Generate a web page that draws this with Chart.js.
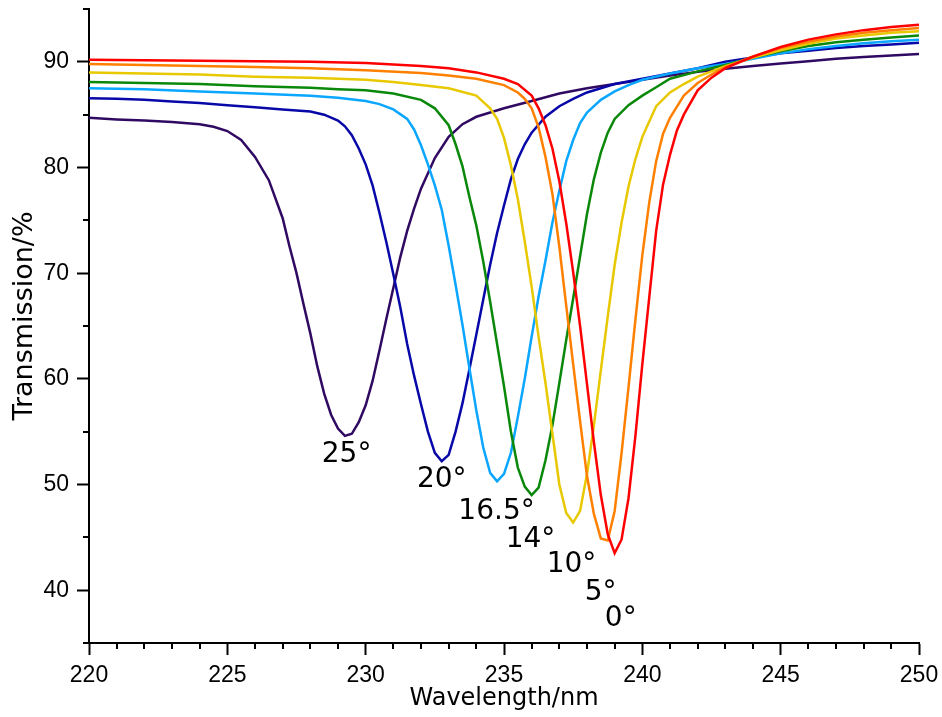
<!DOCTYPE html>
<html>
<head>
<meta charset="utf-8">
<script src="https://cdn.jsdelivr.net/npm/chart.js@4/dist/chart.umd.min.js"></script>
<style>
  html, body { margin: 0; padding: 0; background: #fff; }
  #wrap { width: 942px; height: 717px; }
</style>
</head>
<body>
<div id="wrap"><canvas id="c" width="942" height="717"></canvas></div>
<script>
// Axis ticks
const xTicks = [220, 225, 230, 235, 240, 245, 250];
const yTicks = [40, 50, 60, 70, 80, 90];
const xMinorStep = 1;
const yMinorStep = 5;

// Incidence angles of the spectra
const angles = ['0°', '5°', '10°', '14°', '16.5°', '20°', '25°'];

// 0°
const wl0 = [220, 222, 224, 226, 228, 230, 232, 233, 234, 235, 235.5, 236, 236.25, 236.5, 236.75, 237, 237.25, 237.5, 237.75, 238, 238.25, 238.5, 238.75, 239, 239.25, 239.5, 239.75, 240, 240.25, 240.5, 240.75, 241, 241.25, 241.5, 242, 242.5, 243, 244, 245, 246, 247, 248, 249, 250];
const t0  = [90.2, 90.15, 90.1, 90.05, 90.0, 89.9, 89.6, 89.4, 89.0, 88.4, 87.9, 86.8, 85.6, 84.0, 81.8, 78.7, 74.7, 70.1, 65.0, 59.5, 54.0, 49.0, 45.3, 43.5, 44.8, 48.7, 54.6, 61.4, 67.7, 74.0, 78.4, 81.2, 83.5, 85.0, 87.3, 88.5, 89.4, 90.5, 91.4, 92.1, 92.6, 93.0, 93.3, 93.5];

// 5°
const wl1 = [220, 222, 224, 226, 228, 230, 232, 233, 234, 235, 235.5, 235.75, 236, 236.25, 236.5, 236.75, 237, 237.25, 237.5, 237.75, 238, 238.25, 238.5, 238.75, 239, 239.25, 239.5, 239.75, 240, 240.25, 240.5, 240.75, 241, 241.5, 242, 242.5, 243, 244, 245, 246, 247, 248, 249, 250];
const t1  = [89.8, 89.7, 89.6, 89.5, 89.4, 89.2, 88.95, 88.7, 88.4, 87.8, 87.1, 86.5, 85.6, 83.8, 81.0, 77.5, 72.5, 66.9, 61.4, 56.0, 50.8, 47.2, 44.9, 44.7, 47.5, 53.0, 59.2, 65.6, 71.7, 76.7, 80.6, 83.2, 84.7, 86.8, 88.0, 88.8, 89.5, 90.5, 91.3, 91.9, 92.4, 92.75, 93.0, 93.2];

// 10°
const wl2 = [220, 222, 224, 226, 228, 230, 231, 232, 233, 234, 234.5, 234.75, 235, 235.25, 235.5, 235.75, 236, 236.25, 236.5, 236.75, 237, 237.25, 237.5, 237.75, 238, 238.25, 238.5, 238.75, 239, 239.25, 239.5, 239.75, 240, 240.5, 241, 241.5, 242, 243, 244, 245, 246, 247, 248, 249, 250];
const t2  = [89.0, 88.9, 88.8, 88.6, 88.5, 88.3, 88.1, 87.8, 87.5, 86.8, 85.6, 84.6, 82.8, 80.2, 77.0, 73.0, 68.7, 64.0, 59.6, 54.8, 50.0, 47.3, 46.4, 47.5, 51.0, 55.6, 60.8, 65.9, 70.8, 74.8, 78.2, 80.8, 82.9, 85.8, 87.1, 87.9, 88.6, 89.6, 90.4, 91.1, 91.7, 92.2, 92.5, 92.75, 92.9];

// 14°
const wl3 = [220, 222, 224, 226, 228, 229, 230, 231, 232, 232.5, 233, 233.25, 233.5, 233.75, 234, 234.25, 234.5, 234.75, 235, 235.25, 235.5, 235.75, 236, 236.25, 236.5, 236.75, 237, 237.25, 237.5, 237.75, 238, 238.25, 238.5, 238.75, 239, 239.5, 240, 240.5, 241, 242, 243, 244, 245, 246, 247, 248, 249, 250];
const t3  = [88.1, 88.0, 87.9, 87.7, 87.55, 87.4, 87.3, 87.0, 86.4, 85.6, 84.0, 82.2, 80.1, 77.2, 74.5, 71.1, 67.3, 63.3, 59.3, 55.0, 51.6, 49.8, 49.0, 49.7, 52.3, 55.6, 59.6, 63.7, 67.6, 71.6, 75.6, 78.9, 81.4, 83.3, 84.6, 85.9, 86.8, 87.6, 88.4, 89.1, 89.7, 90.4, 91.0, 91.5, 91.85, 92.1, 92.3, 92.5];

// 16.5°
const wl4 = [220, 222, 224, 226, 228, 229, 230, 230.5, 231, 231.5, 231.75, 232, 232.25, 232.5, 232.75, 233, 233.25, 233.5, 233.75, 234, 234.25, 234.5, 234.75, 235, 235.25, 235.5, 235.75, 236, 236.25, 236.5, 236.75, 237, 237.25, 237.5, 237.75, 238, 238.5, 239, 239.5, 240, 241, 242, 243, 244, 245, 246, 247, 248, 249, 250];
const t4  = [87.5, 87.4, 87.2, 87.0, 86.8, 86.6, 86.3, 86.0, 85.5, 84.6, 83.6, 82.1, 80.3, 78.3, 76.0, 72.6, 68.9, 65.1, 61.0, 57.0, 53.5, 51.1, 50.3, 51.0, 53.0, 56.4, 60.0, 64.0, 67.8, 71.2, 74.8, 77.8, 80.6, 82.6, 84.2, 85.2, 86.4, 87.2, 87.8, 88.3, 88.9, 89.4, 89.8, 90.3, 90.8, 91.2, 91.5, 91.75, 91.95, 92.1];

// 20°
const wl5 = [220, 221, 222, 223, 224, 225, 226, 227, 228, 228.5, 229, 229.25, 229.5, 229.75, 230, 230.25, 230.5, 230.75, 231, 231.25, 231.5, 231.75, 232, 232.25, 232.5, 232.75, 233, 233.25, 233.5, 233.75, 234, 234.25, 234.5, 234.75, 235, 235.25, 235.5, 235.75, 236, 236.5, 237, 237.5, 238, 238.5, 239, 240, 241, 242, 243, 244, 245, 246, 247, 248, 249, 250];
const t5  = [86.55, 86.5, 86.4, 86.25, 86.1, 85.9, 85.7, 85.5, 85.3, 85.0, 84.45, 83.9, 83.05, 81.8, 80.3, 78.3, 75.7, 72.9, 69.9, 66.8, 63.3, 60.3, 57.6, 55.0, 53.0, 52.2, 52.8, 55.0, 57.7, 60.9, 64.2, 67.5, 70.8, 73.8, 76.4, 78.9, 80.8, 82.2, 83.3, 84.8, 85.8, 86.5, 87.1, 87.5, 87.9, 88.4, 88.9, 89.4, 90.0, 90.4, 90.8, 91.05, 91.3, 91.5, 91.65, 91.8];

// 25°
const wl6 = [220, 221, 222, 223, 224, 224.5, 225, 225.5, 226, 226.5, 227, 227.25, 227.5, 227.75, 228, 228.25, 228.5, 228.75, 229, 229.25, 229.5, 229.75, 230, 230.25, 230.5, 230.75, 231, 231.25, 231.5, 231.75, 232, 232.5, 233, 233.5, 234, 235, 236, 237, 238, 239, 240, 241, 242, 243, 244, 245, 246, 247, 248, 249, 250];
const t6  = [84.7, 84.55, 84.45, 84.3, 84.1, 83.85, 83.45, 82.6, 81.0, 78.8, 75.2, 72.5, 70.0, 67.1, 64.3, 61.2, 58.6, 56.6, 55.3, 54.6, 54.8, 55.9, 57.5, 59.8, 62.7, 65.7, 68.6, 71.5, 74.0, 76.1, 78.0, 80.9, 82.9, 84.1, 84.8, 85.6, 86.3, 87.0, 87.5, 87.9, 88.3, 88.7, 89.05, 89.35, 89.6, 89.85, 90.05, 90.3, 90.45, 90.6, 90.75];

const seriesWl = [wl0, wl1, wl2, wl3, wl4, wl5, wl6];
const seriesT = [t0, t1, t2, t3, t4, t5, t6];
const colors = ['#ff0000', '#ff8000', '#e8c800', '#0a880a', '#0aa6ff', '#0808a8', '#300a62'];

// Where each angle label sits (data coordinates of the text centre)
const labelAt = [
  [239.22, 37.3], [238.49, 39.75], [237.44, 42.4], [235.96, 44.76],
  [234.73, 47.4], [232.75, 50.45], [229.31, 52.8]
];

const datasets = angles.map((a, i) => ({
  label: a,
  data: seriesWl[i].map((w, k) => ({ x: w, y: seriesT[i][k] })),
  borderColor: colors[i],
  borderWidth: 2.5,
  pointRadius: 0,
  tension: 0,
  fill: false
}));

const axisFont = { family: 'Liberation Sans', size: 23 };
const yTitle = 'Transmission/%';

// Short minor tick marks between the labelled ones
const minorTicks = {
  id: 'minorTicks',
  afterDraw(chart) {
    const { ctx } = chart;
    const xs = chart.scales.x, ys = chart.scales.y;
    ctx.save();
    ctx.strokeStyle = '#000';
    ctx.lineWidth = 2;
    ctx.beginPath();
    for (let v = xs.min; v <= xs.max + 1e-9; v += xMinorStep) {
      if (xTicks.includes(v)) continue;
      const px = Math.round(xs.getPixelForValue(v));
      ctx.moveTo(px, xs.top);
      ctx.lineTo(px, xs.top + 6);
    }
    for (let v = ys.min; v <= ys.max + 1e-9; v += yMinorStep) {
      if (yTicks.includes(v)) continue;
      const py = Math.round(ys.getPixelForValue(v));
      ctx.moveTo(ys.right, py);
      ctx.lineTo(ys.right - 6, py);
    }
    ctx.stroke();
    ctx.restore();
  }
};

// Angle labels under the transmission dips, plus the vertical axis title
const angleText = {
  id: 'angleText',
  afterDatasetsDraw(chart) {
    const { ctx, chartArea } = chart;
    const xs = chart.scales.x, ys = chart.scales.y;
    ctx.save();
    ctx.fillStyle = '#000';
    ctx.font = '28px "DejaVu Sans"';
    ctx.textAlign = 'center';
    ctx.textBaseline = 'middle';
    angles.forEach((a, i) => {
      ctx.fillText(a, xs.getPixelForValue(labelAt[i][0]), ys.getPixelForValue(labelAt[i][1]));
    });
    ctx.font = '27px "DejaVu Sans"';
    ctx.translate(ys.left + 25, (chartArea.top + chartArea.bottom) / 2 - 10);
    ctx.rotate(-Math.PI / 2);
    ctx.fillText(yTitle, 0, 0);
    ctx.restore();
  }
};

new Chart(document.getElementById('c'), {
  type: 'line',
  data: { datasets },
  options: {
    responsive: false,
    animation: false,
    layout: { padding: { left: 0, top: 9, right: 23, bottom: 0 } },
    plugins: { legend: { display: false }, tooltip: { enabled: false } },
    scales: {
      x: {
        type: 'linear',
        position: 'bottom',
        min: 220,
        max: 250,
        afterBuildTicks: s => { s.ticks = xTicks.map(v => ({ value: v })); },
        afterFit: s => { s.height = 74; s.paddingLeft = 0; s.paddingRight = 0; },
        grid: { drawOnChartArea: false, drawTicks: true, tickLength: 12, tickWidth: 2, tickColor: '#000' },
        border: { display: true, color: '#000', width: 2 },
        ticks: { color: '#000', font: axisFont, padding: 7, maxRotation: 0, autoSkip: false },
        title: { display: true, text: 'Wavelength/nm', color: '#000', font: { family: 'DejaVu Sans', size: 24 }, padding: { top: 0, bottom: 4 } }
      },
      y: {
        type: 'linear',
        position: 'left',
        min: 35,
        max: 95,
        afterBuildTicks: s => { s.ticks = yTicks.map(v => ({ value: v })); },
        afterFit: s => { s.width = 89; s.paddingTop = 0; s.paddingBottom = 0; },
        grid: { drawOnChartArea: false, drawTicks: true, tickLength: 12, tickWidth: 2, tickColor: '#000' },
        border: { display: true, color: '#000', width: 2 },
        ticks: { color: '#000', font: axisFont, padding: 8 },
        title: { display: false }
      }
    }
  },
  plugins: [minorTicks, angleText]
});
</script>
</body>
</html>
